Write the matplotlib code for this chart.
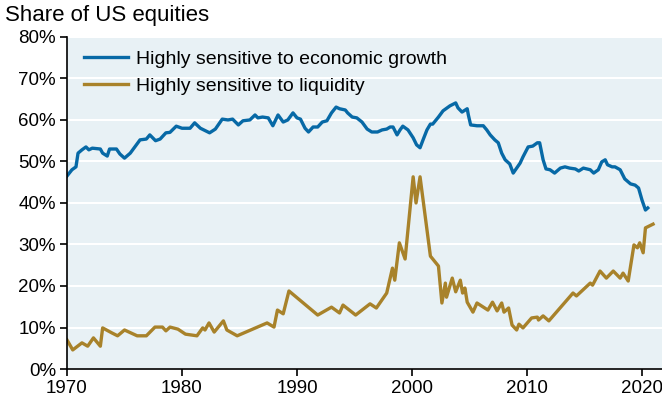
import matplotlib
matplotlib.use("Agg")
import matplotlib.pyplot as plt
from matplotlib.ticker import FuncFormatter

plt.rcParams["font.family"] = ["Liberation Sans", "DejaVu Sans"]

# Highly sensitive to economic growth (share of US equities, %)
growth_year = [
    1970.0, 1970.43, 1970.78, 1970.96, 1971.3, 1971.65, 1971.9, 1972.2, 1972.9,
    1973.1, 1973.5, 1973.7, 1974.3, 1974.6, 1975.0, 1975.5, 1975.9, 1976.35,
    1976.9, 1977.2, 1977.7, 1978.1, 1978.6, 1978.95, 1979.5, 1980.0, 1980.7,
    1981.1, 1981.6, 1982.4, 1982.9, 1983.5, 1984.0, 1984.4, 1984.9, 1985.3,
    1985.9, 1986.35, 1986.6, 1987.0, 1987.5, 1987.9, 1988.35, 1988.8, 1989.2,
    1989.65, 1990.0, 1990.3, 1990.7, 1991.0, 1991.4, 1991.8, 1992.2, 1992.6,
    1993.0, 1993.4, 1993.7, 1994.2, 1994.4, 1994.8, 1995.2, 1995.65, 1996.1,
    1996.5, 1997.0, 1997.4, 1997.8, 1998.1, 1998.35, 1998.7, 1998.96, 1999.2,
    1999.65, 2000.1, 2000.4, 2000.7, 2000.96, 2001.3, 2001.6, 2001.8, 2002.3,
    2002.7, 2003.3, 2003.8, 2004.0, 2004.35, 2004.8, 2004.9, 2005.1, 2005.65,
    2006.2, 2006.5, 2006.8, 2007.2, 2007.5, 2007.8, 2008.1, 2008.5, 2008.8,
    2009.1, 2009.4, 2009.65, 2010.1, 2010.5, 2010.9, 2011.1, 2011.4, 2011.65,
    2012.0, 2012.4, 2012.9, 2013.3, 2013.7, 2014.2, 2014.5, 2014.9, 2015.2,
    2015.5, 2015.8, 2016.2, 2016.5, 2016.8, 2017.0, 2017.4, 2017.65, 2018.1,
    2018.5, 2019.0, 2019.4, 2019.7, 2020.0, 2020.3, 2020.5,
]
growth_share = [
    46.5, 48.0, 48.7, 52.0, 52.8, 53.5, 52.8, 53.2, 53.0,
    52.0, 51.3, 53.0, 53.0, 51.8, 50.8, 52.0, 53.5, 55.2,
    55.4, 56.4, 55.0, 55.4, 56.9, 57.0, 58.5, 58.0, 58.0,
    59.3, 58.0, 56.9, 57.8, 60.2, 60.0, 60.2, 58.8, 59.8,
    60.0, 61.2, 60.5, 60.7, 60.5, 58.6, 61.2, 59.5, 60.0,
    61.7, 60.5, 60.2, 58.0, 57.1, 58.3, 58.3, 59.5, 59.8,
    61.7, 63.1, 62.7, 62.4, 61.7, 60.7, 60.5, 59.5, 57.8,
    57.1, 57.1, 57.6, 57.8, 58.3, 58.3, 56.4, 57.6, 58.5,
    57.6, 55.7, 54.0, 53.3, 55.2, 57.6, 59.0, 59.0, 60.7,
    62.2, 63.4, 64.1, 62.9, 61.9, 62.7, 61.2, 58.8, 58.6,
    58.6, 57.6, 56.4, 55.2, 54.5, 52.0, 50.4, 49.4, 47.2,
    48.4, 49.6, 51.1, 53.5, 53.7, 54.5, 54.5, 50.4, 48.2,
    48.0, 47.2, 48.4, 48.7, 48.4, 48.2, 47.7, 48.4, 48.2,
    48.0, 47.2, 48.0, 49.9, 50.4, 49.2, 48.7, 48.7, 48.0,
    45.8, 44.6, 44.3, 43.6, 40.7, 38.3, 38.8,
]

# Highly sensitive to liquidity (share of US equities, %)
liquidity_year = [
    1970.0, 1970.5, 1971.3, 1971.8, 1972.3, 1972.9, 1973.1, 1973.9, 1974.4,
    1975.0, 1976.1, 1976.9, 1977.65, 1978.3, 1978.6, 1978.96, 1979.65, 1980.3,
    1981.3, 1981.8, 1982.0, 1982.35, 1982.8, 1983.6, 1983.9, 1984.8, 1987.4,
    1988.0, 1988.3, 1988.8, 1989.3, 1991.8, 1993.0, 1993.7, 1994.0, 1995.1,
    1996.35, 1996.9, 1997.8, 1998.3, 1998.5, 1998.9, 1999.4, 2000.1, 2000.35,
    2000.7, 2001.6, 2002.3, 2002.6, 2002.9, 2003.0, 2003.5, 2003.8, 2004.2,
    2004.4, 2004.6, 2004.8, 2005.3, 2005.65, 2006.6, 2007.0, 2007.4, 2007.8,
    2008.0, 2008.4, 2008.7, 2009.1, 2009.3, 2009.65, 2010.4, 2010.9, 2011.0,
    2011.4, 2011.9, 2014.0, 2014.3, 2015.5, 2015.7, 2016.35, 2016.9, 2017.5,
    2018.1, 2018.35, 2018.8, 2019.3, 2019.6, 2019.8, 2020.1, 2020.3, 2020.96,
]
liquidity_share = [
    7.0, 4.6, 6.3, 5.5, 7.5, 5.5, 9.9, 8.7, 8.0,
    9.4, 8.0, 8.0, 10.1, 10.1, 9.2, 10.1, 9.6, 8.4,
    8.0, 9.9, 9.4, 11.1, 8.9, 11.6, 9.4, 8.0, 11.1,
    10.1, 14.2, 13.3, 18.8, 13.0, 14.9, 13.5, 15.4, 13.0,
    15.7, 14.7, 18.3, 24.3, 21.4, 30.4, 26.5, 46.3, 40.0,
    46.3, 27.2, 24.8, 15.9, 20.7, 17.3, 21.9, 18.6, 21.4,
    18.3, 19.5, 16.1, 13.7, 15.9, 14.2, 16.1, 14.0, 15.9,
    13.7, 14.7, 10.6, 9.4, 10.8, 9.9, 12.3, 12.5, 11.8,
    12.8, 11.6, 18.3, 17.6, 20.7, 20.2, 23.6, 21.9, 23.6,
    21.9, 23.1, 21.2, 29.9, 29.2, 30.4, 28.0, 34.0, 34.9,
]

x_ticks = [1970, 1980, 1990, 2000, 2010, 2020]
y_ticks = [0, 10, 20, 30, 40, 50, 60, 70, 80]

BLUE = "#0769a6"
GOLD = "#a8822a"

fig = plt.figure(figsize=(6.62, 4.04), dpi=100)
ax = fig.add_axes([0.1012, 0.0866, 0.899, 0.822])
ax.set_facecolor("#e8f1f5")

ax.plot(growth_year, growth_share, color=BLUE, linewidth=2.4,
        label="Highly sensitive to economic growth", solid_joinstyle="round")
ax.plot(liquidity_year, liquidity_share, color=GOLD, linewidth=2.4,
        label="Highly sensitive to liquidity", solid_joinstyle="round")

ax.set_xlim(1970, 2021.75)
ax.set_ylim(0, 80)
ax.set_xticks(x_ticks)
ax.set_yticks(y_ticks)
ax.yaxis.set_major_formatter(FuncFormatter(lambda v, _: f"{v:.0f}%"))
ax.grid(axis="y", color="white", linewidth=1.5)
ax.set_axisbelow(True)

for side in ("top", "right"):
    ax.spines[side].set_visible(False)
for side in ("left", "bottom"):
    ax.spines[side].set_linewidth(1.2)
ax.tick_params(axis="both", labelsize=13.5, length=5, width=1.2, pad=3)

ax.legend(loc="upper left", frameon=False, fontsize=14, handlelength=2.3,
          handletextpad=0.4, labelspacing=0.45, borderaxespad=0.3,
          bbox_to_anchor=(0.005, 1.0))

fig.text(0.008, 0.962, "Share of US equities", fontsize=16, va="center", ha="left")

fig.savefig("out.png", dpi=100)
